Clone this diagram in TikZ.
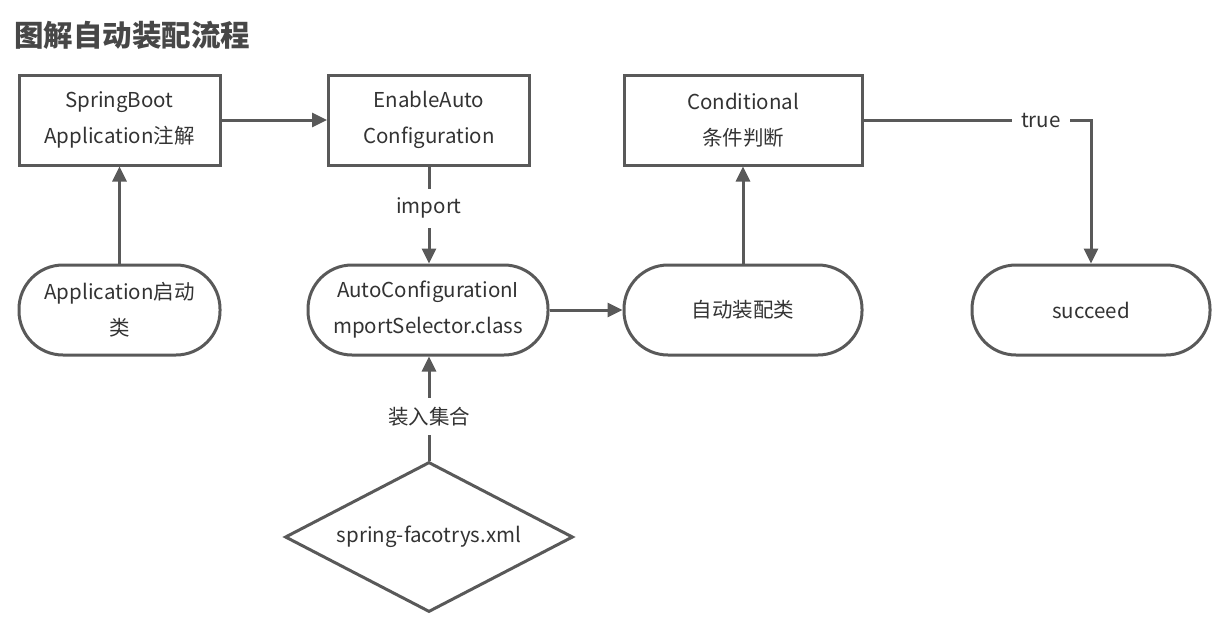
\documentclass[tikz,border=0pt]{standalone}
\usepackage{fontspec}
\setmainfont{Noto Sans CJK SC}
\usepackage{xcolor}
\usepackage{tikz}
\usetikzlibrary{shapes,arrows.meta,positioning}

\definecolor{linegray}{HTML}{595959}
\definecolor{textgray}{HTML}{333333}

\tikzset{
    box/.style={
        draw=linegray,
        line width=3pt,
        minimum width=201pt,
        minimum height=90pt,
        align=center,
        text=textgray,
        font=\fontsize{20.5}{36}\selectfont
    },
    term/.style={box, rounded corners=44pt},
    decide/.style={
        diamond,
        draw=linegray,
        line width=3pt,
        aspect=1.92,
        minimum width=288pt,
        minimum height=150pt,
        inner sep=0pt,
        text=textgray,
        font=\fontsize{20.5}{24}\selectfont
    },
    flow/.style={
        draw=linegray,
        line width=3pt,
        -{Triangle[length=15pt,width=14pt]}
    },
    lbl/.style={
        fill=white,
        inner sep=9pt,
        text=textgray,
        font=\fontsize{20.5}{24}\selectfont
    }
}

\begin{document}
\begin{tikzpicture}[x=1pt,y=-1pt]
    \useasboundingbox (0,0) rectangle (1225,632);

    % title
    \node[anchor=west, inner sep=0pt, text=textgray!90,
          font=\fontsize{29.5}{32}\selectfont\bfseries] (title) at (14,35) {图解自动装配流程};

    % top row
    \node[box] (boot) at (119.5,120) {SpringBoot\\Application注解};
    \node[box] (enable) at (429,120) {EnableAuto\\Configuration};
    \node[box, minimum width=238pt] (cond) at (743,120) {Conditional\\条件判断};

    % middle row
    \node[term] (app) at (119.5,310) {Application启动\\类};
    \node[term, minimum width=240pt] (selector) at (428,310) {AutoConfigurationI\\mportSelector.class};
    \node[term, minimum width=238pt] (auto) at (743,310) {自动装配类};
    \node[term, minimum width=238pt] (succeed) at (1091,310) {succeed};

    % bottom
    \node[decide] (factory) at (429,537) {spring-facotrys.xml};

    % connectors
    \draw[flow] (app) -- (boot);
    \draw[flow] (boot) -- (enable);
    \draw[flow] (enable) -- node[lbl, pos=0.43] {import} (enable |- selector.north);
    \draw[flow] (factory.north) -- node[lbl, pos=0.42] {装入集合} (factory |- selector.south);
    \draw[flow] (selector) -- (auto);
    \draw[flow] (auto) -- (cond);
    \draw[flow] (cond) -| node[lbl, pos=0.39] {true} (succeed);

\end{tikzpicture}
\end{document}
